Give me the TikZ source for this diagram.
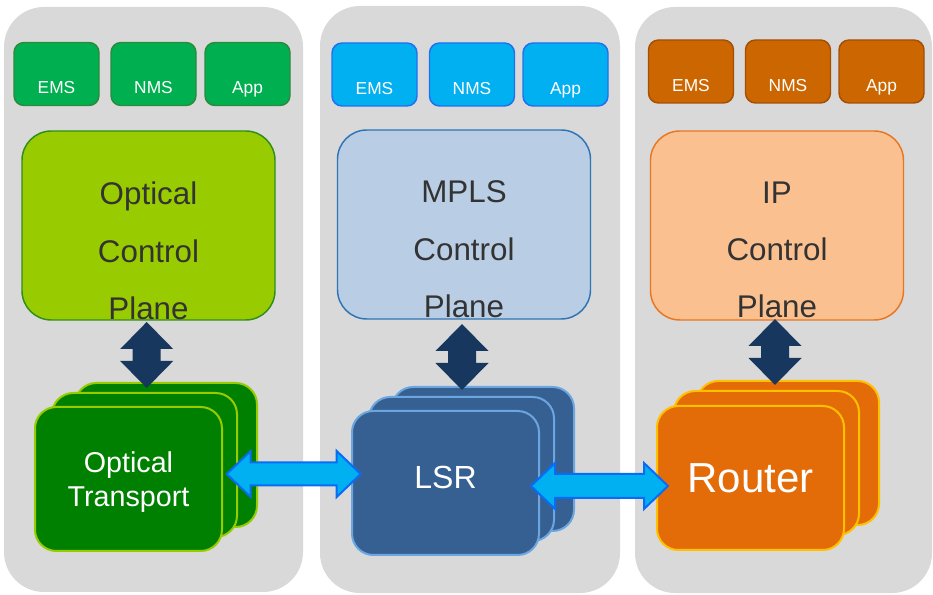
\documentclass[tikz,border=0pt]{standalone}
\usepackage{fontspec}
\setmainfont{Liberation Sans}
\usetikzlibrary{calc}

\definecolor{panelgray}{HTML}{D9D9D9}
\definecolor{grnS}{HTML}{00B050}\definecolor{grnSd}{HTML}{2B8A3E}
\definecolor{bluS}{HTML}{00B0F0}\definecolor{bluSd}{HTML}{2070F0}
\definecolor{orgS}{HTML}{CC6600}\definecolor{orgSd}{HTML}{A34F06}
\definecolor{grnC}{HTML}{99CC00}\definecolor{grnCd}{HTML}{2F8F1A}
\definecolor{bluC}{HTML}{B9CDE5}\definecolor{bluCd}{HTML}{2E75B6}
\definecolor{orgC}{HTML}{FAC090}\definecolor{orgCd}{HTML}{E87722}
\definecolor{grnT}{HTML}{008000}\definecolor{grnTd}{HTML}{99CC00}
\definecolor{bluT}{HTML}{376092}\definecolor{bluTd}{HTML}{6CA6E0}
\definecolor{orgT}{HTML}{E36C09}\definecolor{orgTd}{HTML}{FFC000}
\definecolor{navy}{HTML}{17375E}
\definecolor{linkfill}{HTML}{00B0F0}\definecolor{linkline}{HTML}{0A6CF5}
\definecolor{planetext}{HTML}{333333}

\tikzset{
  sz/.style 2 args={minimum width={#1*0.75pt}, minimum height={#2*0.75pt}},
  base/.style={rectangle, inner sep=0pt, outer sep=0pt},
  panel/.style={base, fill=panelgray, rounded corners=30pt},
  mgmt/.style 2 args={base, sz={85}{63}, rounded corners=7.5pt, fill=#1, draw=#2,
    line width=1.1pt, text=white, font=\fontsize{13}{15.6}\selectfont,
    text height=30pt, text depth=0pt},
  ctrl/.style 2 args={base, sz={253}{189}, rounded corners=22pt, fill=#1, draw=#2,
    line width=1.1pt},
  planetxt/.style={align=center, text=planetext,
    font=\fontsize{23.5}{43}\selectfont},
  dev/.style 2 args={base, minimum height={144*0.75pt}, rounded corners=16pt,
    fill=#1, draw=#2, line width=1.5pt, text=white},
  vlink/.style={fill=navy, draw=none},
  hlink/.style={fill=linkfill, draw=linkline, line width=1.5pt, line join=miter},
}

\begin{document}
\begin{tikzpicture}[x=0.75pt, y=-0.75pt]
\useasboundingbox (0,0) rectangle (933,595);

% three layer panels
\node[panel, sz={299}{585}] (panA) at (153.5,299.5) {};
\node[panel, sz={300}{587}] (panB) at (470,299.5) {};
\node[panel, sz={297}{586}] (panC) at (783.5,300) {};

% management applications
\node[mgmt={grnS}{grnSd}] (emsA) at (56.5,74) {EMS};
\node[mgmt={grnS}{grnSd}] (nmsA) at (153.5,74) {NMS};
\node[mgmt={grnS}{grnSd}] (appA) at (247.5,74) {App};
\node[mgmt={bluS}{bluSd}] (emsB) at (374.5,74.5) {EMS};
\node[mgmt={bluS}{bluSd}] (nmsB) at (472,74.5) {NMS};
\node[mgmt={bluS}{bluSd}] (appB) at (565.5,74.5) {App};
\node[mgmt={orgS}{orgSd}] (emsC) at (691,71.5) {EMS};
\node[mgmt={orgS}{orgSd}] (nmsC) at (788,71.5) {NMS};
\node[mgmt={orgS}{orgSd}] (appC) at (881.5,71.5) {App};

% control planes
\node[ctrl={grnC}{grnCd}] (cpA) at (148.5,225.5) {};
\node[ctrl={bluC}{bluCd}] (cpB) at (464,224.5) {};
\node[ctrl={orgC}{orgCd}] (cpC) at (777,225.5) {};
\node[planetxt] (cpAt) at ($(cpA.center)+(0,25.5)$) {Optical\\Control\\Plane};
\node[planetxt] (cpBt) at ($(cpB.center)+(0,25)$) {MPLS\\Control\\Plane};
\node[planetxt] (cpCt) at ($(cpC.center)+(0,24.5)$) {IP\\Control\\Plane};

% data plane devices, stacked three deep
\node[dev={grnT}{grnTd}, minimum width={182*0.75pt}] (devAb) at (166,455) {};
\node[dev={grnT}{grnTd}, minimum width={185*0.75pt}] (devAm) at (144.5,465) {};
\node[dev={grnT}{grnTd}, minimum width={187*0.75pt}] (devAf) at (128.5,479) {};
\node[text=white, align=center, inner sep=0pt,
  font=\fontsize{21.5}{26}\selectfont] (devAt) at ($(devAf.center)+(0,3)$) {Optical\\Transport};

\node[dev={bluT}{bluTd}, minimum width={182*0.75pt}] (devBb) at (483,459) {};
\node[dev={bluT}{bluTd}, minimum width={185*0.75pt}] (devBm) at (461.5,469) {};
\node[dev={bluT}{bluTd}, minimum width={187*0.75pt}] (devBf) at (445.5,483) {};
\node[text=white, font=\fontsize{24}{28}\selectfont, inner sep=0pt] (devBt)
  at ($(devBf.center)+(0,-6)$) {LSR};

\node[dev={orgT}{orgTd}, minimum width={182*0.75pt}] (devCb) at (788,453) {};
\node[dev={orgT}{orgTd}, minimum width={185*0.75pt}] (devCm) at (766.5,463) {};
\node[dev={orgT}{orgTd}, minimum width={187*0.75pt},
  font=\fontsize{31.5}{36}\selectfont] (devCf) at (750.5,478) {Router};

% control plane <-> device links
\foreach \cp/\dv/\dx/\dy in {cpA/devAb/-1.8/2, cpB/devBb/-2/5, cpC/devCb/-2/-1} {
  \coordinate (vt) at ($(\cp.south)+(\dx,\dy)$);
  \draw[vlink] (vt) -- ++(26.5,27) -- ++(-12.5,0) -- ++(0,12) -- ++(12.5,0)
    -- ++(-26.5,27) -- ++(-26.5,-27) -- ++(12.5,0) -- ++(0,-12) -- ++(-12.5,0) -- cycle;
}

% device <-> device links
\coordinate (l1a) at ($(devAf.east)+(4.7,-5)$);
\coordinate (l1b) at ($(devBf.west)+(8.7,-9)$);
\coordinate (l2a) at ($(devBf.east)+(-8,3)$);
\coordinate (l2b) at ($(devCf.west)+(11,8)$);
\foreach \a/\b/\s in {l1a/l1b/11.5, l2a/l2b/12} {
  \draw[hlink] (\a) -- ($(\a)+(24,-23)$) -- ($(\a)+(24,-\s)$) -- ($(\b)+(-24,-\s)$)
    -- ($(\b)+(-24,-23)$) -- (\b) -- ($(\b)+(-24,23)$) -- ($(\b)+(-24,\s)$)
    -- ($(\a)+(24,\s)$) -- ($(\a)+(24,23)$) -- cycle;
}
\end{tikzpicture}
\end{document}
